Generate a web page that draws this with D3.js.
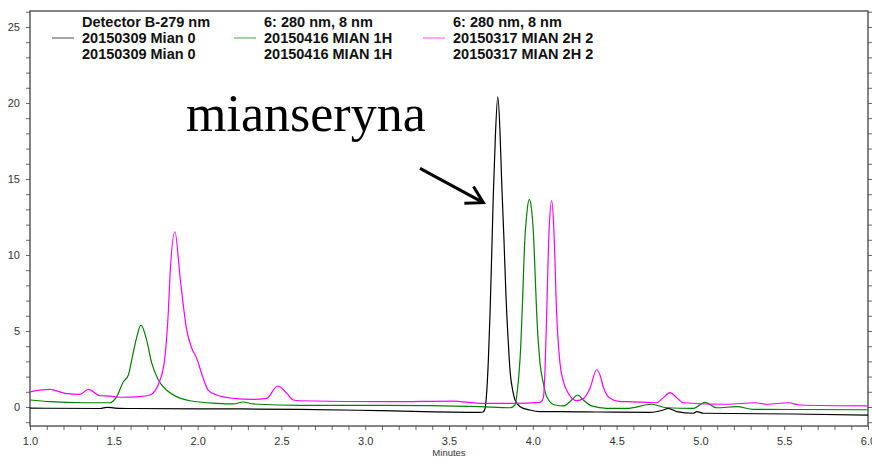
<!DOCTYPE html>
<html>
<head>
<meta charset="utf-8">
<script src="https://cdn.jsdelivr.net/npm/d3@7"></script>
<style>
body { margin: 0; background: #fff; }
svg { display: block; font-family: "Liberation Sans", Arial, sans-serif; }
</style>
</head>
<body>
<div id="chart"></div>
<script>
// retention time (min) , signal
const mian0 = [[1.000,-0.07],[1.418,-0.10],[1.458,-0.02],[1.507,-0.07],[1.615,-0.10],[2.014,-0.12],[2.611,-0.15],[3.088,-0.24],[3.685,-0.35],[3.703,-0.33],[3.715,-0.10],[3.734,2.87],[3.745,6.2],[3.755,10.1],[3.764,13.8],[3.776,17.6],[3.791,20.4],[3.804,18.2],[3.814,14.9],[3.828,11.0],[3.840,7.3],[3.854,4.2],[3.864,2.4],[3.880,1.1],[3.894,0.46],[3.924,0.02],[3.983,-0.2],[4.043,-0.3],[4.162,-0.30],[4.401,-0.33],[4.699,-0.36],[4.779,-0.2],[4.808,-0.09],[4.859,-0.30],[4.958,-0.41],[4.978,-0.30],[5.017,-0.41],[5.554,-0.46],[6.0,-0.53]]

const mian1h = [[1.000,0.46],[1.119,0.35],[1.318,0.28],[1.477,0.28],[1.517,0.68],[1.557,1.66],[1.587,2.10],[1.607,3.10],[1.637,4.60],[1.662,5.39],[1.696,4.40],[1.726,2.90],[1.766,1.78],[1.816,1.10],[1.875,0.68],[1.955,0.41],[2.114,0.24],[2.213,0.20],[2.273,0.33],[2.332,0.20],[2.611,0.11],[3.088,0.11],[3.685,0.02],[3.864,-0.05],[3.894,0.13],[3.908,1.1],[3.928,3.97],[3.940,7.3],[3.950,10.5],[3.964,12.7],[3.979,13.66],[3.993,12.96],[4.003,11.6],[4.013,9.0],[4.023,6.2],[4.043,2.9],[4.063,1.56],[4.083,0.68],[4.132,0.13],[4.182,0.07],[4.232,0.46],[4.268,0.79],[4.301,0.46],[4.351,0.07],[4.441,-0.09],[4.560,-0.09],[4.709,0.18],[4.799,-0.05],[4.958,-0.09],[5.027,0.31],[5.097,-0.05],[5.216,0.02],[5.316,-0.15],[6.0,-0.18]]

const mian2h = [[1.000,1.00],[1.119,1.16],[1.209,0.90],[1.298,0.83],[1.348,1.16],[1.418,0.74],[1.477,0.72],[1.537,0.64],[1.656,0.68],[1.716,0.79],[1.776,1.78],[1.805,3.30],[1.825,6.20],[1.835,8.57],[1.865,11.53],[1.895,8.57],[1.935,5.07],[1.965,3.86],[1.995,3.20],[2.024,2.20],[2.064,1.10],[2.114,0.79],[2.213,0.57],[2.332,0.50],[2.412,0.57],[2.478,1.38],[2.532,0.90],[2.571,0.46],[2.611,0.41],[3.148,0.35],[3.526,0.39],[3.685,0.24],[3.884,0.24],[4.043,0.30],[4.063,0.6],[4.073,2.5],[4.083,6.2],[4.097,11.6],[4.113,13.57],[4.126,11.6],[4.142,6.2],[4.162,2.9],[4.182,1.7],[4.202,1.1],[4.262,0.42],[4.301,0.55],[4.340,1.2],[4.381,2.45],[4.401,2.1],[4.421,1.3],[4.461,0.57],[4.521,0.35],[4.560,0.35],[4.739,0.28],[4.777,0.6],[4.819,0.94],[4.860,0.6],[4.898,0.28],[5.157,0.18],[5.326,0.28],[5.396,0.18],[5.525,0.28],[5.594,0.13],[6.0,0.07]]

const seriesColors = ["#000000", "#008000", "#ff00ff"]
const legendHeaders = ["Detector B-279 nm", "6: 280 nm, 8 nm", "6: 280 nm, 8 nm"]
const legendNames = ["20150309 Mian 0", "20150416 MIAN 1H", "20150317 MIAN 2H 2"]
const legendX = [82, 264, 453]

// annotation, in data units
const noteText = "mianseryna"
const notePos = [1.931, 18.18]
const arrowFrom = [3.327, 15.7]
const arrowTo = [3.705, 13.44]

const width = 872
const height = 459
const margin = {top: 11, right: 4, bottom: 33, left: 30}
const chartWidth = width - margin.left - margin.right
const chartHeight = height - margin.top - margin.bottom

const svg = d3.select('#chart').append('svg')
  .attr('width', width)
  .attr('height', height)

const x = d3.scaleLinear().domain([1, 6]).range([0, chartWidth])
const y = d3.scaleLinear().domain([-1.25, 26.05]).range([chartHeight, 0])

const g = svg.append('g').attr('transform', `translate(${margin.left}, ${margin.top})`)

const xTicks = d3.range(10, 61).map(d => d / 10)
const yTicks = d3.range(-1, 27)

const xAxis = g.append('g')
  .attr('transform', `translate(0, ${chartHeight})`)
  .call(d3.axisBottom(x).tickValues(xTicks).tickSize(4).tickSizeOuter(0).tickPadding(7)
    .tickFormat(d => Math.round(d * 10) % 5 === 0 ? d.toFixed(1) : ''))

const yAxis = g.append('g')
  .call(d3.axisLeft(y).tickValues(yTicks).tickSize(4).tickSizeOuter(0).tickPadding(6)
    .tickFormat(d => d % 5 === 0 && d >= 0 ? d : ''))

const yAxisRight = g.append('g')
  .attr('transform', `translate(${chartWidth}, 0)`)
  .call(d3.axisRight(y).tickValues(yTicks).tickSize(4).tickSizeOuter(0).tickFormat(''))

g.selectAll('.domain').remove()
g.selectAll('.tick line').attr('stroke', '#666')
g.selectAll('.tick text').attr('fill', '#333').style('font-size', '11px')

// frame
g.append('rect')
  .attr('width', chartWidth)
  .attr('height', chartHeight)
  .attr('fill', 'none')
  .attr('stroke', '#333')
  .attr('stroke-width', 1.2)

g.append('text')
  .attr('x', chartWidth / 2)
  .attr('y', chartHeight + 30)
  .attr('text-anchor', 'middle')
  .attr('fill', '#333')
  .style('font-size', '9.5px')
  .text('Minutes')

const line = d3.line()
  .x(d => x(d[0]))
  .y(d => y(d[1]))
  .curve(d3.curveMonotoneX)

const allSeries = [mian0, mian1h, mian2h]

g.append('g').attr('class', 'lines')
  .selectAll('path')
  .data(allSeries)
  .enter()
  .append('path')
  .attr('d', line)
  .attr('fill', 'none')
  .attr('stroke', (d, i) => seriesColors[i])
  .attr('stroke-width', 1.2)
  .attr('stroke-linejoin', 'round')

// legend
const legend = svg.append('g').attr('class', 'legend')
  .selectAll('g')
  .data(legendNames)
  .enter()
  .append('g')
  .attr('transform', (d, i) => `translate(${legendX[i]}, 0)`)

legend.append('line')
  .attr('x1', -30).attr('x2', -8)
  .attr('y1', 38).attr('y2', 38)
  .attr('stroke', (d, i) => seriesColors[i])
  .attr('stroke-opacity', 0.55)
  .attr('stroke-width', 1.3)

legend.selectAll('text')
  .data((d, i) => [legendHeaders[i], d, d])
  .enter()
  .append('text')
  .attr('y', (d, j) => 27 + j * 16)
  .attr('font-weight', 'bold')
  .style('font-size', '14.5px')
  .attr('fill', '#111')
  .text(d => d)

// annotation
g.append('text')
  .attr('x', x(notePos[0]))
  .attr('y', y(notePos[1]))
  .style('font-family', '"Liberation Serif", "Times New Roman", serif')
  .style('font-size', '52px')
  .attr('fill', '#000')
  .text(noteText)

const ax0 = x(arrowFrom[0]), ay0 = y(arrowFrom[1])
const ax1 = x(arrowTo[0]), ay1 = y(arrowTo[1])
const ang = Math.atan2(ay1 - ay0, ax1 - ax0)
const headLen = 19
const spread = Math.PI / 6
const h1 = [ax1 - headLen * Math.cos(ang - spread), ay1 - headLen * Math.sin(ang - spread)]
const h2 = [ax1 - headLen * Math.cos(ang + spread), ay1 - headLen * Math.sin(ang + spread)]

g.append('path')
  .attr('d', `M${ax0},${ay0}L${ax1},${ay1}M${h1[0]},${h1[1]}L${ax1},${ay1}L${h2[0]},${h2[1]}`)
  .attr('fill', 'none')
  .attr('stroke', '#000')
  .attr('stroke-width', 3)
  .attr('stroke-linecap', 'butt')
</script>
</body>
</html>
